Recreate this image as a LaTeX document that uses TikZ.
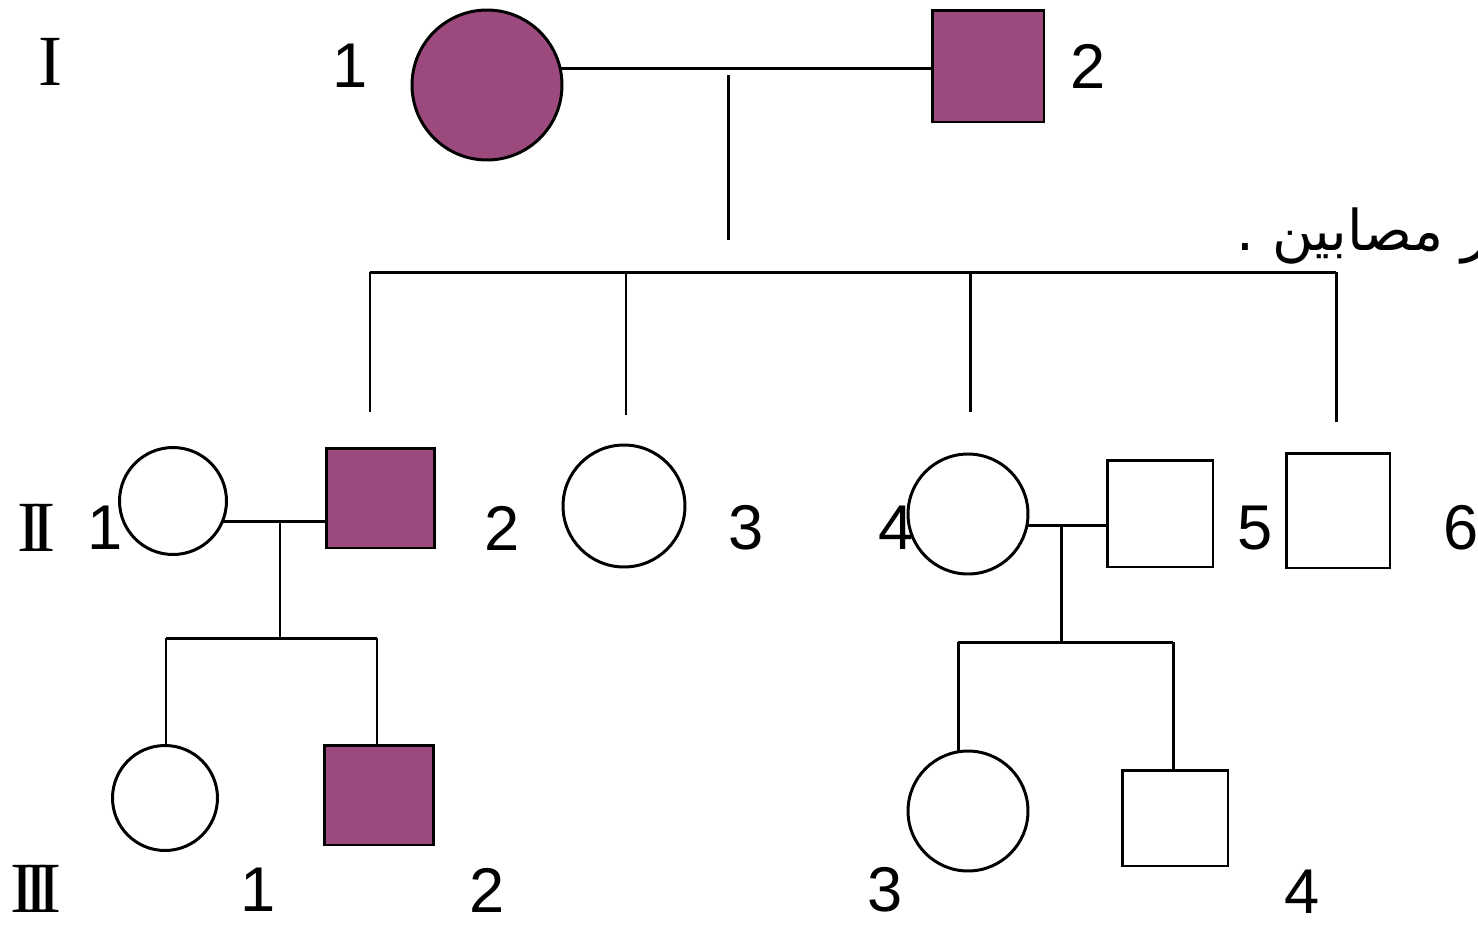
\documentclass[tikz,border=0pt]{standalone}
\usepackage{fontspec}
\setmainfont{Liberation Sans}
\newfontfamily\romanfont{Liberation Serif}
\newfontfamily\arabicfont[Script=Arabic]{DejaVu Sans}
\TeXXeTstate=1
\definecolor{affected}{HTML}{9C4A7E}
\begin{document}
\begin{tikzpicture}[x=0.02cm,y=-0.02cm,
  ind/.style={draw=black, line width=1.7pt, inner sep=0pt, outer sep=0pt, fill=white},
  fem/.style={ind, circle},
  mal/.style={ind, rectangle},
  aff/.style={fill=affected},
  num/.style={inner sep=0pt, font=\fontsize{36}{40}\selectfont},
  gen/.style={inner sep=0pt, font=\romanfont\fontsize{41}{44}\selectfont},
  link/.style={line width=1.7pt, draw=black}]
\useasboundingbox (0,0) rectangle (1478,931);
\fill[white] (0,0) rectangle (1478,931);

% Generation I
\node[fem,aff,minimum size=3cm] (f11) at (487,85) {};
\node[mal,aff,minimum width=2.24cm,minimum height=2.24cm] (m12) at (988,66) {};
% Generation II
\node[fem,minimum size=2.14cm] (f21) at (173,501) {};
\node[mal,aff,minimum width=2.18cm,minimum height=2.0cm] (m22) at (380.5,498) {};
\node[fem,minimum size=2.44cm] (f23) at (624,506) {};
\node[fem,minimum size=2.4cm] (f24) at (968,514) {};
\node[mal,minimum width=2.12cm,minimum height=2.14cm] (m25) at (1160,513.5) {};
\node[mal,minimum width=2.08cm,minimum height=2.3cm] (m26) at (1338,510.5) {};
% Generation III
\node[fem,minimum size=2.1cm] (f31) at (165,798) {};
\node[mal,aff,minimum width=2.2cm,minimum height=2.0cm] (m32) at (379,795) {};
\node[fem,minimum size=2.4cm] (f33) at (968,811) {};
\node[mal,minimum width=2.12cm,minimum height=1.92cm] (m34) at (1175,818) {};

% coordinates
\coordinate (dI1) at (728,75);
\coordinate (dI2) at (728,240);
\coordinate (s1a) at (370,272);
\coordinate (s1b) at (1336,272);
\coordinate (t23) at (626,272);
\coordinate (t24) at (970,272);
\coordinate (c22) at (370,412);
\coordinate (c23) at (626,415);
\coordinate (c24) at (970,412);
\coordinate (c26) at (1336,422);
\coordinate (mL) at (280,522);
\coordinate (mLb) at (280,640);
\coordinate (s2a) at (166,638);
\coordinate (s2b) at (377,638);
\coordinate (mR) at (1061,525);
\coordinate (mRb) at (1061,642);
\coordinate (s3a) at (958,642);
\coordinate (s3b) at (1173,642);
\coordinate (c33) at (958,751);

% connectors
\draw[link] (f11.13) -- (f11.13 -| m12.west);
\draw[link] (dI1) -- (dI2);
\draw[link] (s1a) -- (s1b);
\draw[link] (s1a) -- (c22);
\draw[link] (t23) -- (c23);
\draw[link] (t24) -- (c24);
\draw[link] (s1b) -- (c26);

\draw[link] (f21.-23) -- (f21.-23 -| m22.west);
\draw[link] (mL) -- (mLb);
\draw[link] (s2a) -- (s2b);
\draw[link] (s2a) -- (s2a |- f31.north);
\draw[link] (s2b) -- (s2b |- m32.north);

\draw[link] (f24.-11) -- (f24.-11 -| m25.west);
\draw[link] (mR) -- (mRb);
\draw[link] (s3a) -- (s3b);
\draw[link] (s3a) -- (c33);
\draw[link] (s3b) -- (s3b |- m34.north);

% generation labels
\node[gen] (gI) at (50,62) {I};
\node[gen] (gII) at (36,528) {I\kern-0.14em I};
\node[gen] (gIII) at (36,889) {I\kern-0.14em I\kern-0.14em I};

% individual numbers
\node[num] (n11) at (350,66) {1};
\node[num] (n12) at (1088,66) {2};
\node[num] (n21) at (105,528) {1};
\node[num] (n22) at (502,528) {2};
\node[num] (n23) at (746,528) {3};
\node[num] (n24) at (896,528) {4};
\node[num] (n25) at (1255,528) {5};
\node[num] (n26) at (1461,528) {6};
\node[num] (n31) at (258,890) {1};
\node[num] (n32) at (487,890) {2};
\node[num] (n33) at (885,890) {3};
\node[num] (n34) at (1302,892) {4};

% Arabic text (clipped at right edge, as in the reference)
\node[inner sep=0pt, anchor=base west, font=\arabicfont\fontsize{32}{36}\selectfont] (ar) at (1236,250) {\beginR غير مصابين .\endR};
\end{tikzpicture}
\end{document}
